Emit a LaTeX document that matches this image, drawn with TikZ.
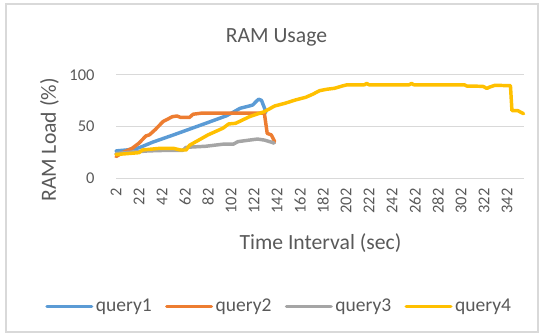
\documentclass[tikz,border=0pt]{standalone}
\usepackage{fontspec}
\setmainfont{Carlito}
\usetikzlibrary{positioning}

\definecolor{txtgray}{HTML}{595959}
\definecolor{gridgray}{HTML}{D9D9D9}
\definecolor{q1blue}{HTML}{5B9BD5}
\definecolor{q2orange}{HTML}{ED7D31}
\definecolor{q3gray}{HTML}{A5A5A5}
\definecolor{q4yellow}{HTML}{FFC000}

\begin{document}
\begin{tikzpicture}[
                    x=0.75bp, y=0.75bp,
                    label text/.style={
                        text=txtgray,
                        inner sep=0pt
                    },
                    chart title/.style={
                        label text,
                        font=\fontsize{16.3}{18}\selectfont
                    },
                    ticklabel/.style={
                        label text,
                        font=\fontsize{12.4}{14}\selectfont
                    },
                    legend/.style={
                        label text,
                        font=\fontsize{14.7}{16}\selectfont
                    },
                    grid line/.style={
                        draw=gridgray,
                        line width=0.75bp
                    },
                    series/.style={
                        line width=2.6bp,
                        line join=round,
                        line cap=round
                    },
                    node distance=11bp,
                    shorten >=3bp
                ]
                \useasboundingbox (0,0) rectangle (545,336);
                \draw [draw=gridgray, line width=1.5bp, shorten >=0pt] (6,4) rectangle (538,332);

                \node (title) [chart title] at (276.5,299) {RAM Usage};
                \node (ylabel) [chart title, rotate=90] at (49.5,196) {RAM Load (\%)};
                \node (xlabel) [chart title] at (320.5,93) {Time Interval (sec)};

                % plot area: x in sec, y in percent
                \begin{scope}[shift={(113.7,157.7)}, x=0.8625bp, y=0.775bp, shorten >=0pt]
                    \foreach \v in {0,50,100} {
                        \draw [grid line] (2,\v) -- (356.5,\v);
                        \node (y\v) [ticklabel, anchor=east] at (-16.5,\v) {\v};
                    }
                    \foreach \t in {2,22,...,342}
                        \node (x\t) [ticklabel, rotate=90, anchor=east] at (\t,-9.5) {\t};

                    \draw [series, q1blue] plot coordinates {(2,26.5) (12,27.5) (22,29.5) (34,35) (52,42) (67,48) (82,54) (98,60.5) (104,64) (110,67.8) (118,70) (121,71) (124,74.5) (126,76.5) (128.5,75.5) (132.5,64)};
                    \draw [series, q2orange] plot coordinates {(2,21) (8,25) (16,29) (22,34) (28,41) (31,42) (36,47) (43,55) (51,59.6) (55,60.3) (58,59) (66,59) (69,62) (76,63) (131,63) (133.5,43.5) (137,42) (140,35.5)};
                    \draw [series, q3gray] plot coordinates {(2,24) (12,25) (30,26.5) (45,27) (60,27) (63,30) (80,31) (95,33) (104,33) (108,35.5) (125,38) (131,37) (137,35) (139.5,34)};
                    \draw [series, q4yellow] plot coordinates {(2,23) (22,24.8) (25,27.4) (40,29) (52,29) (58,27.4) (63,27.4) (66,32) (82,42) (95,48.5) (100,52.6) (106,53.2) (118,59.6) (131,64.5) (140,70) (149,72.6) (158,75.8) (167,78.4) (173,81.3) (179,84.8) (185.5,86.2) (192,87.1) (199,89.4) (203,90.5) (218,90.5) (220,91.8) (222,90.5) (257,90.5) (259,91.8) (261,90.5) (305,90.5) (307,89.3) (321,89) (324.5,87) (327,88.3) (331.5,90) (345,89.6) (346.3,65.5) (351.5,65.4) (356.4,62.5)};
                \end{scope}

                % legend
                \coordinate (L1) at (47,29.5);
                \node (Q1) [legend, right=36.5bp of L1] {query1};
                \coordinate [right=of Q1] (L2);
                \node (Q2) [legend, right=36.5bp of L2] {query2};
                \coordinate [right=of Q2] (L3);
                \node (Q3) [legend, right=36.5bp of L3] {query3};
                \coordinate [right=of Q3] (L4);
                \node (Q4) [legend, right=36.5bp of L4] {query4};

                \draw [series, q1blue] (L1) -- (Q1);
                \draw [series, q2orange] (L2) -- (Q2);
                \draw [series, q3gray] (L3) -- (Q3);
                \draw [series, q4yellow] (L4) -- (Q4);
            \end{tikzpicture}
\end{document}
